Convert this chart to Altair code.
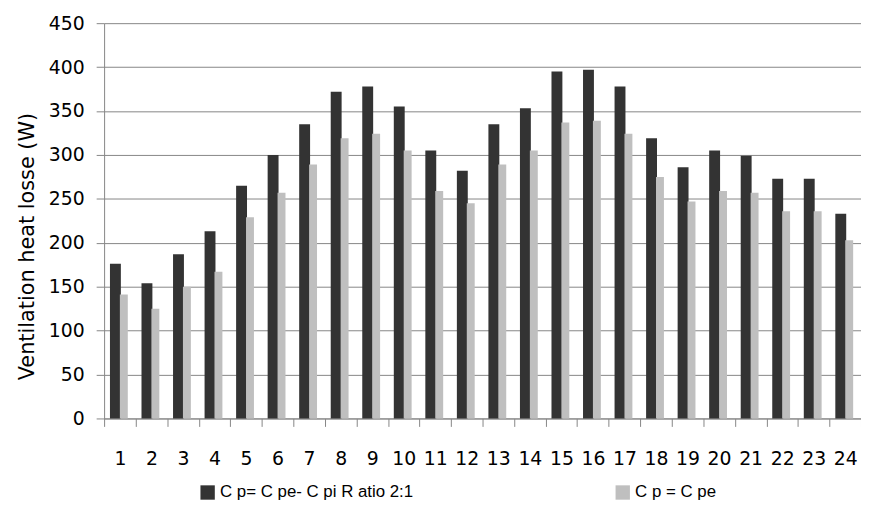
import altair as alt
import pandas as pd

hours = [str(h) for h in range(1, 25)]
dark_vals = [176, 154, 187, 213, 265, 300, 335, 372, 378, 355, 305, 282,
             335, 353, 395, 397, 378, 319, 286, 305, 299, 273, 273, 233]
light_vals = [141, 125, 150, 167, 229, 257, 289, 319, 324, 305, 259, 245,
              289, 305, 337, 339, 324, 275, 247, 259, 257, 236, 236, 203]
series_names = ["C p= C pe- C pi R atio 2:1", "C p = C pe"]
series_colors = ["#333333", "#bfbfbf"]
y_ticks = list(range(0, 451, 50))

rows = []
for h, d, l in zip(hours, dark_vals, light_vals):
    rows.append({"hour": h, "series": series_names[0], "value": d})
    rows.append({"hour": h, "series": series_names[1], "value": l})
df = pd.DataFrame(rows)

FONT = "DejaVu Sans"

x_enc = alt.X(
    "hour:N",
    sort=hours,
    scale=alt.Scale(paddingInner=0, paddingOuter=0),
    axis=alt.Axis(
        title=None, labelAngle=0, tickBand="extent", ticks=True, tickSize=8,
        tickColor="#868686", domainColor="#868686", labelFont=FONT,
        labelFontSize=19, labelColor="#000000", labelPadding=23, grid=False,
    ),
)
y_enc = alt.Y(
    "value:Q",
    scale=alt.Scale(domain=[0, 450], nice=False),
    axis=alt.Axis(
        title="Ventilation heat losse (W)", values=y_ticks, tickSize=8,
        tickColor="#868686", domainColor="#868686", gridColor="#868686",
        grid=True, labelFont=FONT, labelFontSize=19, labelColor="#000000",
        labelPadding=12, titleFont=FONT, titleFontSize=21,
        titleFontWeight="normal", titleColor="#000000", titlePadding=11,
        titleY=225,
    ),
)
color_enc = alt.Color(
    "series:N",
    scale=alt.Scale(domain=series_names, range=series_colors),
    legend=alt.Legend(
        title=None, orient="none", legendX=96, legendY=465,
        direction="horizontal", columns=2, columnPadding=202,
        symbolType="square", symbolSize=210, symbolStrokeWidth=0,
        labelFont="Liberation Sans", labelFontSize=17, labelColor="#000000",
        labelOffset=4, labelLimit=400, padding=0,
    ),
)

base = alt.Chart(df)
dark = base.transform_filter(
    alt.datum.series == series_names[0]
).mark_bar(width=11, xOffset=-4.5).encode(x=x_enc, y=y_enc, color=color_enc)
light = base.transform_filter(
    alt.datum.series == series_names[1]
).mark_bar(width=8, xOffset=4).encode(x=x_enc, y=y_enc, color=color_enc)

chart = alt.layer(dark, light).properties(
    width=764, height=399,
    autosize=alt.AutoSizeParams(type="none"),
    padding={"left": 97, "top": 13, "right": 0, "bottom": 80},
).configure_view(stroke=None)

chart.save("out.html", embed_options={"renderer": "svg", "actions": False})
